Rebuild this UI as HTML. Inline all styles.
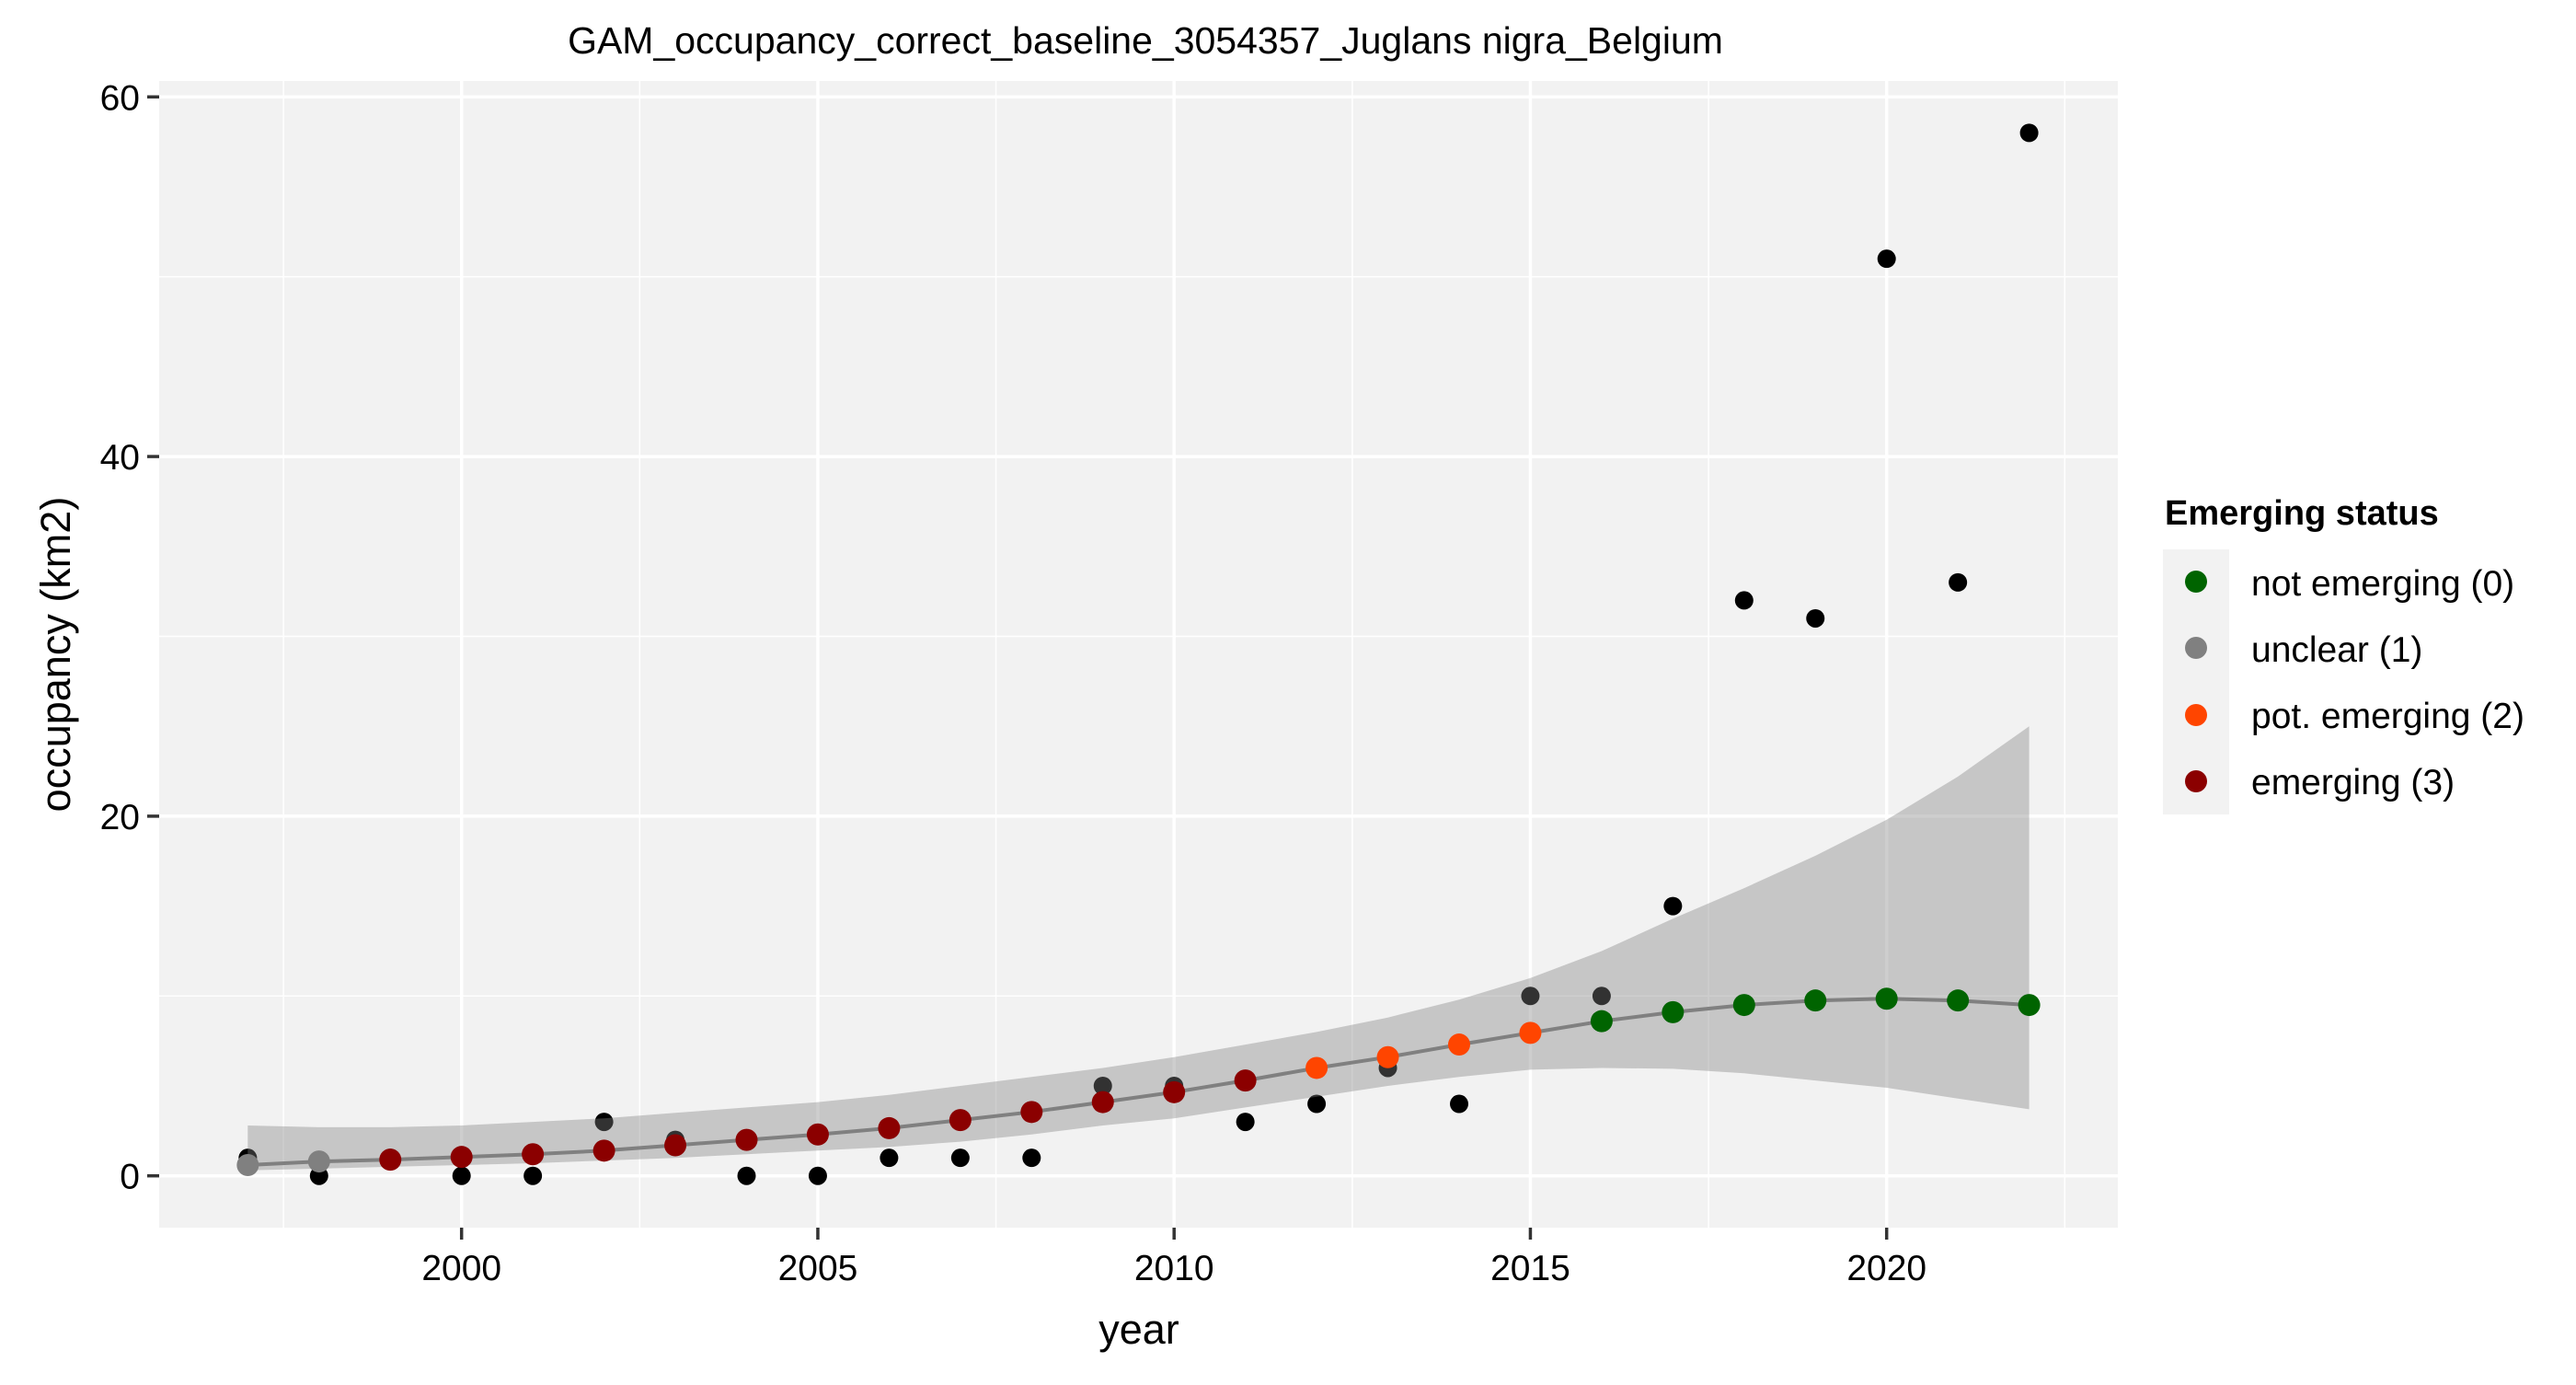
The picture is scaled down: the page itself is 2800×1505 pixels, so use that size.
<!DOCTYPE html>
<html><head><meta charset="utf-8"><style>
html,body{margin:0;padding:0;background:#fff;}
svg text{font-family:"Liberation Sans",Arial,sans-serif;}
</style></head><body>
<svg id="chart" width="2800" height="1500" viewBox="0 0 2800 1500" xmlns="http://www.w3.org/2000/svg">
<rect x="0" y="0" width="2800" height="1500" fill="#fff"/>
<text x="1245" y="58" font-size="41" text-anchor="middle">GAM_occupancy_correct_baseline_3054357_Juglans nigra_Belgium</text>
<rect x="173" y="88" width="2129" height="1246" fill="#f2f2f2"/>
<g id="grid"></g>
<g id="obs"></g>
<g id="band"></g>
<g id="fitline"></g>
<g id="status"></g>
<g id="axes"></g>
<text x="1238" y="1460" font-size="45" text-anchor="middle">year</text>
<text transform="translate(76,711) rotate(-90)" font-size="45" text-anchor="middle">occupancy (km2)</text>
<g>
<text x="2353" y="570" font-size="38" font-weight="bold">Emerging status</text>
<rect x="2351" y="597" width="72" height="288" fill="#f2f2f2"/>
<circle cx="2387" cy="632" r="12" fill="#006400"/>
<text x="2447" y="647" font-size="39">not emerging (0)</text>
<circle cx="2387" cy="704" r="12" fill="#808080"/>
<text x="2447" y="719" font-size="39">unclear (1)</text>
<circle cx="2387" cy="777" r="12" fill="#FF4500"/>
<text x="2447" y="791" font-size="39">pot. emerging (2)</text>
<circle cx="2387" cy="849" r="12" fill="#8B0000"/>
<text x="2447" y="863" font-size="39">emerging (3)</text>
</g>
</svg>
<script>
const years = [1997,1998,1999,2000,2001,2002,2003,2004,2005,2006,2007,2008,2009,2010,2011,2012,2013,2014,2015,2016,2017,2018,2019,2020,2021,2022];
const observed = [1,0,1,0,0,3,2,0,0,1,1,1,5,5,3,4,6,4,10,10,15,32,31,51,33,58];
const fitted = [0.6,0.8,0.9,1.05,1.2,1.4,1.7,2.0,2.3,2.65,3.1,3.55,4.1,4.65,5.3,6.0,6.6,7.3,7.95,8.6,9.1,9.5,9.75,9.85,9.75,9.5];
const upperCI = [2.8,2.7,2.7,2.8,3.0,3.2,3.5,3.8,4.1,4.5,5.0,5.5,6.0,6.6,7.3,8.0,8.8,9.8,11.0,12.5,14.3,16.0,17.8,19.8,22.2,25.0];
const lowerCI = [0.3,0.4,0.5,0.6,0.7,0.85,1.0,1.2,1.4,1.6,1.9,2.3,2.8,3.2,3.8,4.4,5.0,5.5,5.9,6.0,5.95,5.7,5.3,4.9,4.3,3.7];
const statusCodes = [1,1,3,3,3,3,3,3,3,3,3,3,3,3,3,2,2,2,2,0,0,0,0,0,0,0];
const statusColors = ["#006400","#808080","#FF4500","#8B0000"];
const xTicks = [2000,2005,2010,2015,2020];
const xMinor = [1997.5,2002.5,2007.5,2012.5,2017.5,2022.5];
const yTicks = [0,20,40,60];
const yMinor = [10,30,50];

const NS="http://www.w3.org/2000/svg";
const X0=501.7, XPY=77.45, Y0=1277.7, YPU=19.54;
const PL=173, PR=2302, PT=88, PB=1334;
function xs(v){return X0+(v-2000)*XPY;}
function ys(v){return Y0-v*YPU;}
function mk(tag,attrs,parent){const e=document.createElementNS(NS,tag);for(const k in attrs)e.setAttribute(k,attrs[k]);parent.appendChild(e);return e;}

const grid=document.getElementById('grid');
yMinor.forEach(v=>{const l=mk('line',{x1:PL,x2:PR,y1:ys(v),y2:ys(v),stroke:'#fff','stroke-width':1.5},grid);

});
xMinor.forEach(v=>{const l=mk('line',{x1:xs(v),x2:xs(v),y1:PT,y2:PB,stroke:'#fff','stroke-width':1.5},grid);

});
yTicks.forEach(v=>{const l=mk('line',{x1:PL,x2:PR,y1:ys(v),y2:ys(v),stroke:'#fff','stroke-width':3.5},grid);

});
xTicks.forEach(v=>{const l=mk('line',{x1:xs(v),x2:xs(v),y1:PT,y2:PB,stroke:'#fff','stroke-width':3.5},grid);

});

const obs=document.getElementById('obs');
years.forEach((y,i)=>{const c=mk('circle',{cx:xs(y),cy:ys(observed[i]),r:10,fill:'#000'},obs);

});

const band=document.getElementById('band');
let d='';
years.forEach((y,i)=>{d+=(i?'L':'M')+xs(y).toFixed(1)+','+ys(upperCI[i]).toFixed(1);});
for(let i=years.length-1;i>=0;i--){d+='L'+xs(years[i]).toFixed(1)+','+ys(lowerCI[i]).toFixed(1);}
d+='Z';
const bp=mk('path',{d:d,fill:'rgb(130,130,130)','fill-opacity':0.39},band);



const fl=document.getElementById('fitline');
const pts=years.map((y,i)=>xs(y).toFixed(1)+','+ys(fitted[i]).toFixed(1)).join(' ');
const pl=mk('polyline',{points:pts,fill:'none',stroke:'#808080','stroke-width':4},fl);



const st=document.getElementById('status');
years.forEach((y,i)=>{const c=mk('circle',{cx:xs(y),cy:ys(fitted[i]),r:12,fill:statusColors[statusCodes[i]]},st);

});

const ax=document.getElementById('axes');
yTicks.forEach(v=>{const t=mk('line',{x1:160,x2:173,y1:ys(v),y2:ys(v),stroke:'#333','stroke-width':3.5},ax);


const tx=mk('text',{x:152,y:ys(v)+14,'font-size':39,'text-anchor':'end',fill:'#000'},ax);
tx.textContent=v;

});
xTicks.forEach(v=>{const t=mk('line',{x1:xs(v),x2:xs(v),y1:PB,y2:PB+13,stroke:'#333','stroke-width':3.5},ax);


const tx=mk('text',{x:xs(v),y:1391,'font-size':39,'text-anchor':'middle',fill:'#000'},ax);
tx.textContent=v;

});
</script>
</body></html>
